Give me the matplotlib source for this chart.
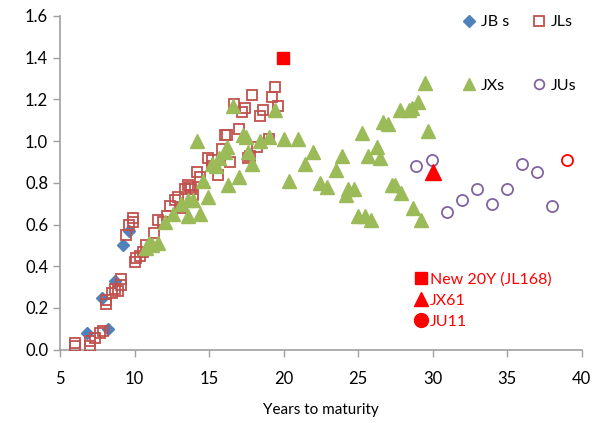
import matplotlib
matplotlib.use("Agg")
import matplotlib.pyplot as plt
from matplotlib.lines import Line2D

plt.rcParams['font.family'] = ['Lato', 'DejaVu Sans']

# ---- data ----
jbs_x = [6.8, 8.2, 7.8, 8.7, 9.2, 9.6]
jbs_y = [0.08, 0.10, 0.25, 0.33, 0.50, 0.57]

jls_x = [6.0, 6.0, 7.0, 7.0, 7.35, 7.7, 7.9, 8.1, 8.1, 8.5, 8.7, 8.9, 9.1, 9.1,
         9.4, 9.6, 9.9, 9.9, 10.0, 10.1, 10.4, 10.6, 10.8, 11.3, 11.6, 11.9,
         12.2, 12.4, 12.7, 12.9, 13.2, 13.4, 13.6, 13.8, 13.95, 14.2, 14.4,
         14.95, 15.2, 15.6, 15.85, 16.2, 16.4, 16.7, 17.0, 17.2, 17.4, 17.6,
         17.9, 18.2, 18.4, 18.6, 19.0, 19.2, 19.4, 19.65, 13.7, 16.1, 17.75, 15.2]
jls_y = [0.02, 0.03, 0.02, 0.04, 0.055, 0.08, 0.09, 0.22, 0.24, 0.27, 0.29, 0.28, 0.31, 0.34,
         0.55, 0.60, 0.61, 0.63, 0.42, 0.44, 0.45, 0.47, 0.50, 0.56, 0.62, 0.61,
         0.64, 0.69, 0.72, 0.73, 0.68, 0.77, 0.79, 0.77, 0.74, 0.85, 0.83,
         0.92, 0.88, 0.84, 0.96, 1.03, 0.90, 1.18, 1.06, 1.14, 1.16, 0.92,
         1.22, 0.97, 1.12, 1.15, 1.01, 1.21, 1.26, 1.17, 0.78, 1.03, 0.93, 0.91]

jxs_x = [10.8, 11.0, 11.15, 11.6, 12.05, 12.6, 13.1, 13.6, 13.95, 13.6, 14.4, 14.95,
         14.6, 14.2, 15.2, 15.5, 15.7, 16.1, 16.3, 16.6, 16.2, 17.0, 17.3, 17.5,
         17.6, 17.9, 18.4, 19.0, 19.4, 20.0, 20.4, 21.0, 21.45, 22.0, 22.45, 22.9,
         23.5, 23.9, 24.2, 24.35, 24.7, 25.0, 25.25, 25.45, 25.7, 25.9, 26.25, 26.5,
         26.7, 27.0, 27.3, 27.5, 27.8, 27.9, 28.4, 28.6, 28.7, 29.05, 29.2, 29.5, 29.7]
jxs_y = [0.49, 0.51, 0.50, 0.51, 0.61, 0.65, 0.70, 0.72, 0.72, 0.64, 0.65, 0.73,
         0.81, 1.00, 0.89, 0.88, 0.92, 0.95, 0.79, 1.17, 0.97, 0.83, 1.03, 1.02,
         0.95, 0.89, 1.00, 1.02, 1.15, 1.01, 0.81, 1.01, 0.89, 0.95, 0.80, 0.78,
         0.86, 0.93, 0.74, 0.77, 0.77, 0.64, 1.04, 0.64, 0.93, 0.62, 0.97, 0.92,
         1.09, 1.08, 0.79, 0.79, 1.15, 0.75, 1.15, 1.16, 0.68, 1.19, 0.62, 1.28, 1.05]

jus_x = [28.9, 29.95, 30.95, 31.95, 32.97, 33.97, 34.98, 35.98, 36.99, 38.0]
jus_y = [0.88, 0.91, 0.66, 0.72, 0.77, 0.70, 0.77, 0.89, 0.85, 0.69]

new20_x, new20_y = [19.95], [1.40]
jx61_x, jx61_y = [30.0], [0.85]
ju11_x, ju11_y = [39.0], [0.91]

x_ticks = [5, 10, 15, 20, 25, 30, 35, 40]
y_ticks = [0.0, 0.2, 0.4, 0.6, 0.8, 1.0, 1.2, 1.4, 1.6]

# ---- figure ----
fig = plt.figure(figsize=(5.97, 4.23), dpi=100)
ax = fig.add_axes([60/597, 1 - 349.7/423, (581.5-60)/597, (349.7-16)/423])

blue = '#4F81BD'
red_d = '#C0504D'
green = '#9BBB59'
purple = '#8064A2'

ax.plot(jbs_x, jbs_y, linestyle='none', marker='D', markersize=6.5, color=blue,
        markeredgecolor=blue, zorder=2)
ax.plot(jls_x, jls_y, linestyle='none', marker='s', markersize=7.5, markerfacecolor='none',
        markeredgecolor=red_d, markeredgewidth=1.3, zorder=3)
ax.plot(jxs_x, jxs_y, linestyle='none', marker='^', markersize=9.5, color=green,
        markeredgecolor=green, zorder=4)
ax.plot(jus_x, jus_y, linestyle='none', marker='o', markersize=8, markerfacecolor='none',
        markeredgecolor=purple, markeredgewidth=1.3, zorder=5)
ax.plot(new20_x, new20_y, linestyle='none', marker='s', markersize=8.5, color='#FF0000', zorder=6)
ax.plot(jx61_x, jx61_y, linestyle='none', marker='^', markersize=11, color='#FF0000', zorder=6)
ax.plot(ju11_x, ju11_y, linestyle='none', marker='o', markersize=8, markerfacecolor='none',
        markeredgecolor='#FF0000', markeredgewidth=1.3, zorder=6)

ax.set_xlim(5, 40)
ax.set_ylim(0, 1.6)
ax.set_xticks(x_ticks)
ax.set_yticks(y_ticks)
ax.set_xticklabels([str(v) for v in x_ticks])
ax.set_yticklabels([f"{v:.1f}" for v in y_ticks])
for s in ['top', 'right']:
    ax.spines[s].set_visible(False)
for s in ['left', 'bottom']:
    ax.spines[s].set_color('#A0A0A0')
    ax.spines[s].set_linewidth(1.2)
ax.tick_params(axis='both', colors='#A0A0A0', labelcolor='black', labelsize=12,
               length=5, width=1.0, direction='out')
ax.tick_params(axis='x', pad=10)
ax.set_xlabel('Years to maturity', fontsize=11, labelpad=12)

# legend 1
h1 = [Line2D([], [], linestyle='none', marker='D', markersize=6, color=blue),
      Line2D([], [], linestyle='none', marker='^', markersize=8, color=green),
      Line2D([], [], linestyle='none', marker='s', markersize=7, markerfacecolor='none',
             markeredgecolor=red_d, markeredgewidth=1.3),
      Line2D([], [], linestyle='none', marker='o', markersize=7, markerfacecolor='none',
             markeredgecolor=purple, markeredgewidth=1.3)]
l1 = ax.legend(h1, ['JB s', 'JXs', 'JLs', 'JUs'], ncol=2, frameon=False, fontsize=11.5,
               loc='upper left', bbox_to_anchor=(455/597, 1 - 7/423),
               bbox_transform=fig.transFigure, labelspacing=3.1, handlelength=0.8,
               handletextpad=0.3, columnspacing=1.5, borderpad=0)
ax.add_artist(l1)

h2 = [Line2D([], [], linestyle='none', marker='s', markersize=9, color='#FF0000'),
      Line2D([], [], linestyle='none', marker='^', markersize=10, color='#FF0000'),
      Line2D([], [], linestyle='none', marker='o', markersize=10, color='#FF0000')]
l2 = ax.legend(h2, ['New 20Y (JL168)', 'JX61', 'JU11'], frameon=False, fontsize=11.5,
               loc='upper left', bbox_to_anchor=(407/597, 1 - 264/423),
               bbox_transform=fig.transFigure, labelspacing=0.45, handlelength=0.8,
               handletextpad=0.15, borderpad=0, labelcolor='#FF0000')

fig.savefig('out.png', dpi=100)
